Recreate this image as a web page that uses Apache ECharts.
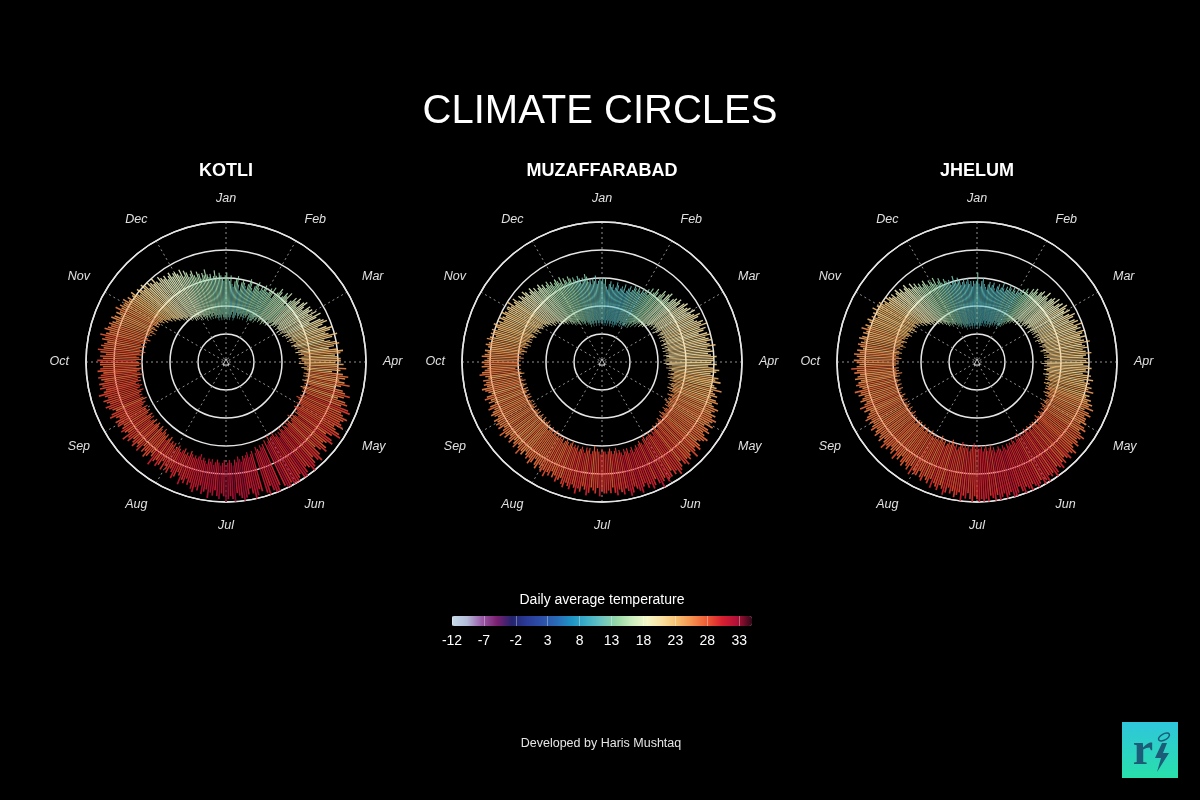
<!DOCTYPE html>
<html>
<head>
<meta charset="utf-8">
<title>Climate Circles</title>
<script src="https://cdn.jsdelivr.net/npm/echarts@6/dist/echarts.min.js"></script>
<style>
  html, body { margin: 0; padding: 0; background: #000; }
  #chart { width: 1200px; height: 800px; }
</style>
</head>
<body>
<div id="chart"></div>
<script>
// daily max / min temperature (°C), one row per month
const months = ["Jan", "Feb", "Mar", "Apr", "May", "Jun", "Jul", "Aug", "Sep", "Oct", "Nov", "Dec"];
const cities = ["KOTLI", "MUZAFFARABAD", "JHELUM"];

const kotliMax = [
  22,20,19,21,18,17,19,20,21,18,16,19,20,19,18,17,19,21,20,18,17,19,20,21,19,18,20,19,21,20,19,
  19,21,20,22,18,20,21,23,22,20,21,23,22,24,21,19,22,24,23,25,24,22,25,26,24,23,26,25,
  26,24,27,25,28,26,23,27,28,29,27,25,28,30,29,27,28,31,29,26,28,30,31,29,27,30,32,31,29,30,31,
  31,29,32,30,33,31,28,32,34,33,31,33,35,32,30,33,34,36,34,32,35,36,34,37,38,35,36,38,37,36,
  37,38,35,36,38,39,36,34,37,38,36,35,37,38,36,34,37,39,38,36,38,39,40,38,37,39,41,40,38,39,40,
  40,41,39,40,42,39,null,38,40,41,39,37,40,39,null,38,37,39,40,38,36,38,39,41,39,38,37,40,39,38,
  39,40,38,37,39,38,36,38,37,39,36,37,38,35,37,36,38,37,35,36,34,36,35,37,34,33,35,36,34,33,35,
  34,33,35,32,34,35,33,34,36,33,32,34,35,33,34,32,35,34,33,35,34,33,35,34,36,33,34,35,34,33,35,
  34,35,33,34,36,35,33,34,35,36,34,35,36,34,35,37,35,34,36,35,36,34,35,36,35,34,36,35,34,35,
  35,36,34,35,33,35,36,34,35,34,33,35,34,36,34,33,35,34,33,34,33,32,34,33,31,33,32,34,32,33,32,
  32,33,31,32,30,31,32,30,29,31,30,29,31,30,28,30,29,28,30,28,27,29,28,27,28,26,27,28,26,27,
  27,26,25,27,24,26,25,23,24,25,23,22,24,23,21,23,22,24,22,21,22,20,21,23,21,20,22,21,20,19,21
];
const kotliMin = [
  6,5,7,6,5,6,7,8,6,5,6,7,8,7,6,7,8,6,7,8,7,6,8,7,8,9,7,6,8,7,8,
  7,8,9,7,8,10,9,8,9,10,9,8,10,9,11,10,9,10,11,12,10,11,12,11,13,12,11,12,
  12,11,13,12,11,13,14,12,13,14,13,15,14,13,15,14,16,15,14,15,16,15,17,16,15,17,16,18,17,16,17,
  17,18,16,18,19,17,18,19,20,18,19,18,20,19,18,20,19,21,19,18,19,20,19,21,20,19,20,18,19,20,
  20,19,21,20,19,20,21,20,22,21,20,21,19,21,22,20,21,20,22,21,20,22,21,20,22,21,23,21,22,20,21,
  21,22,20,22,23,21,null,22,23,22,24,23,22,24,null,23,24,25,23,24,25,24,26,25,24,26,25,27,26,25,
  26,27,25,26,27,26,25,26,27,25,26,25,27,26,25,26,24,25,26,25,26,25,24,26,25,26,24,25,26,25,24,
  25,26,24,25,24,25,23,24,25,23,24,23,22,24,23,22,24,23,22,23,24,22,23,24,22,23,22,24,23,22,23,
  23,22,24,23,22,23,21,22,23,22,23,22,21,23,22,21,22,23,21,22,21,22,20,21,22,21,20,22,21,20,
  21,22,20,21,22,20,21,19,20,21,20,19,21,20,19,20,18,19,20,19,18,19,17,18,19,17,18,19,17,18,17,
  18,17,16,17,15,16,15,14,15,13,14,13,12,13,12,11,12,10,11,10,11,9,10,9,10,8,9,8,9,8,
  9,8,7,9,8,7,8,6,7,8,7,6,8,7,6,7,8,6,7,6,7,5,6,7,6,5,7,6,5,6,6
];

const muzaMax = [
  20,18,20,17,16,18,19,17,18,16,17,19,18,16,17,18,17,19,16,17,18,19,17,18,20,19,18,20,19,18,20,
  19,20,21,19,22,20,21,23,22,20,22,24,23,21,24,25,23,22,24,25,24,26,25,23,26,27,25,26,
  27,25,28,26,27,29,28,26,27,29,28,30,27,29,28,26,29,30,28,29,30,28,29,31,28,29,30,28,29,31,30,
  30,29,31,28,30,32,31,29,30,32,31,33,30,31,32,34,31,32,33,31,33,34,32,33,35,34,33,35,34,36,
  35,34,36,33,35,36,34,35,37,36,35,34,36,37,35,36,38,35,36,37,36,38,37,35,37,38,39,37,38,36,38,
  38,39,37,38,40,38,36,38,39,37,38,36,37,39,38,37,36,38,39,37,36,38,37,36,38,37,35,37,36,37,
  37,36,38,35,37,36,35,37,38,36,35,37,36,38,36,35,37,36,35,37,36,34,35,36,34,35,33,35,34,36,34,
  35,34,33,35,34,32,34,35,33,34,33,32,34,33,35,33,32,34,33,32,34,33,32,34,33,35,33,32,34,33,34,
  33,34,32,33,34,33,32,34,33,31,33,32,34,33,31,32,33,34,32,33,32,33,31,32,34,33,32,31,33,32,
  33,32,31,33,32,31,32,30,31,32,31,30,32,31,29,31,30,31,29,30,31,29,30,28,30,29,28,30,29,28,29,
  29,28,30,27,28,29,27,26,28,27,26,28,27,25,26,27,25,26,24,25,26,24,25,23,24,25,23,24,22,23,
  24,23,22,24,21,23,22,21,23,22,20,22,21,20,22,21,19,21,20,22,21,19,20,18,20,19,21,18,19,20,19
];
const muzaMin = [
  4,3,5,4,3,4,5,3,4,5,4,3,4,5,4,3,5,4,3,4,5,4,5,6,4,5,4,6,5,4,5,
  5,6,5,7,6,5,7,8,6,7,8,9,7,9,10,8,9,10,9,11,10,11,12,11,13,12,11,13,
  12,13,11,12,14,13,12,13,14,12,13,14,12,13,14,13,12,14,13,12,14,13,12,14,13,14,12,13,14,13,12,
  13,14,12,13,15,14,13,15,14,16,15,14,16,15,14,16,15,17,16,15,16,17,15,17,16,18,17,16,18,17,
  17,18,16,17,18,17,19,18,17,18,19,18,17,19,18,20,19,18,19,20,19,20,21,19,20,21,20,22,21,20,21,
  21,22,20,21,23,22,21,22,23,22,23,24,22,23,24,22,23,22,24,23,22,23,21,22,23,22,21,22,23,22,
  22,21,23,22,21,22,20,22,23,21,22,21,23,22,21,22,23,21,22,21,22,20,21,22,21,20,21,22,20,21,20,
  21,20,21,19,20,21,20,19,20,21,19,20,18,19,20,19,18,20,19,18,19,20,18,19,18,19,20,18,19,18,19,
  19,18,19,20,18,19,18,20,19,18,19,18,20,19,18,19,20,18,19,20,19,20,18,19,20,19,21,20,19,20,
  20,19,20,18,19,20,18,19,17,18,19,17,18,16,17,18,16,17,16,17,16,15,16,17,15,16,14,15,16,15,14,
  15,14,15,13,14,13,12,13,11,12,11,12,10,11,10,9,10,9,8,9,8,9,7,8,7,6,7,6,7,6,
  6,5,7,6,5,6,5,4,5,6,5,4,5,4,3,4,5,4,3,4,5,4,3,4,5,4,3,4,5,4,4
];

const jhelumMax = [
  22,18,17,19,20,18,17,16,18,19,17,18,19,17,16,18,19,17,18,20,18,17,19,18,20,19,18,20,19,18,20,
  19,20,21,19,22,21,20,23,22,24,23,22,24,25,23,24,26,24,23,25,26,25,27,24,26,27,25,28,
  27,26,28,25,27,29,28,26,28,29,27,30,28,29,27,30,29,28,30,28,29,31,28,29,30,28,29,31,29,28,30,
  29,30,28,30,31,29,30,28,31,30,32,29,31,30,32,31,33,30,32,31,33,32,34,33,35,32,34,35,33,34,
  34,35,33,35,36,34,35,37,36,35,36,37,35,36,38,37,36,38,37,36,38,37,39,38,37,39,40,38,39,38,40,
  39,40,38,39,41,39,38,40,39,38,40,39,37,39,41,40,38,39,40,38,39,41,38,40,39,38,40,39,41,39,
  40,39,38,40,39,37,39,38,40,37,38,39,37,38,36,38,39,37,36,38,37,36,38,35,37,36,35,37,36,34,36,
  36,35,37,34,36,35,34,36,35,33,35,34,36,33,35,34,33,35,34,36,34,33,35,34,33,35,34,33,35,34,33,
  34,33,35,34,33,32,34,33,35,33,32,34,33,32,34,33,35,32,33,34,33,32,34,33,32,34,33,35,33,32,
  33,34,32,33,34,32,33,31,32,33,32,31,33,32,30,32,31,33,31,32,30,31,32,30,31,29,31,30,32,30,31,
  30,31,29,30,28,30,29,28,29,27,28,29,27,28,26,27,28,26,25,27,25,26,24,25,23,24,25,23,22,24,
  23,22,24,21,22,23,21,20,22,21,20,21,19,20,22,20,19,21,20,18,19,20,18,19,20,18,19,17,19,18,19
];
const jhelumMin = [
  3,2,4,3,2,3,4,3,4,5,3,4,3,5,4,3,4,5,4,3,4,5,4,6,5,4,5,6,5,4,5,
  5,6,5,7,6,8,7,8,9,8,9,10,9,11,10,9,11,10,12,11,10,12,11,13,12,11,12,13,
  12,11,13,12,13,12,14,13,12,14,13,14,12,13,14,13,15,14,13,14,15,14,13,15,14,16,14,15,14,16,15,
  14,15,13,15,14,16,15,14,15,16,15,14,16,15,16,15,17,16,15,17,16,17,16,18,17,16,18,17,19,18,
  18,17,18,19,17,18,19,18,20,19,18,19,20,19,18,20,19,21,20,19,20,19,21,20,19,21,20,19,21,20,21,
  20,21,19,21,20,22,21,20,22,21,22,21,23,22,21,23,22,21,22,23,21,22,20,21,22,20,21,22,20,21,
  21,20,21,19,20,21,22,20,21,20,21,19,20,21,22,20,21,20,19,21,20,21,22,20,21,20,19,21,20,21,20,
  21,20,21,19,20,21,20,19,21,20,19,20,21,19,20,19,21,20,19,20,19,20,18,19,20,19,18,20,19,18,19,
  19,20,18,19,20,19,18,20,19,20,19,18,20,19,18,20,19,18,19,20,18,19,17,19,18,19,18,20,19,18,
  19,18,19,17,18,19,18,17,18,19,17,18,16,17,18,17,16,18,17,16,17,16,15,16,17,15,16,14,15,16,15,
  15,16,14,15,13,14,12,13,12,11,12,10,11,10,11,9,10,9,8,9,8,7,8,6,7,6,7,5,6,6,
  6,5,6,4,5,4,5,3,4,5,4,3,4,3,2,4,3,4,3,2,3,4,3,2,3,4,3,2,3,4,3
];

const highs = [kotliMax, muzaMax, jhelumMax];
const lows = [kotliMin, muzaMin, jhelumMin];

// colour ramp of the "Daily average temperature" bar, -12 .. 35 evenly spaced
const tempColors = [
  "#c6dbeb", "#b4bcd8", "#9a5aa8", "#7a2070", "#24246e", "#2a3c98", "#2d50a8",
  "#2a6cb8", "#1f94c4", "#3fb0c8", "#6cc4c0", "#98d8a8", "#cceec0", "#f4f8c8",
  "#fae0a0", "#f8c070", "#f49050", "#ee5a34", "#d82030", "#b01038", "#300818"
];
const legendMin = -12;
const legendMax = 35;
const legendStep = 5;

(function () {
  const el = document.getElementById("chart");
  const chart = echarts.init(el, null, { renderer: "canvas" });

  const centers = [[226, 362], [602, 362], [977, 362]];
  const R = 140;
  const font = "Liberation Sans, Arial, sans-serif";
  const dayNames = kotliMax.map((_, i) => String(i + 1));

  const polar = [];
  const angleAxis = [];
  const radiusAxis = [];
  const series = [];
  const barSeriesIdx = [];
  const hidden = { show: false };

  cities.forEach((name, c) => {
    const hi = highs[c];
    const lo = lows[c];

    // polar 2c = bars, polar 2c+1 = rings / month spokes
    polar.push({ center: centers[c], radius: [0, R] });
    polar.push({ center: centers[c], radius: [0, R] });

    angleAxis.push({
      polarIndex: 2 * c, type: "category", data: dayNames, startAngle: 90,
      axisLine: hidden, axisTick: hidden, axisLabel: hidden, splitLine: hidden
    });
    radiusAxis.push({
      polarIndex: 2 * c, type: "value", min: -10, max: 40,
      axisLine: hidden, axisTick: hidden, axisLabel: hidden, splitLine: hidden
    });

    angleAxis.push({
      polarIndex: 2 * c + 1, type: "value", min: 0, max: 12, interval: 1, startAngle: 90,
      axisLine: { lineStyle: { color: "#e6e6e6", width: 1.5 } },
      axisTick: hidden,
      axisLabel: {
        formatter: (v) => months[v] || "",
        color: "#e0e0e0", fontSize: 12.5, fontStyle: "italic", fontFamily: font, margin: 17
      },
      splitLine: { lineStyle: { type: [2, 3], color: "#909090", width: 1 } }
    });
    radiusAxis.push({
      polarIndex: 2 * c + 1, type: "value", min: -10, max: 40, interval: 10,
      axisLine: hidden, axisTick: hidden, axisLabel: hidden,
      splitLine: { lineStyle: { color: "#e6e6e6", width: 1.5 } }
    });

    // transparent base up to the daily min, then the min->max bar on top
    series.push({
      type: "bar", coordinateSystem: "polar", polarIndex: 2 * c, stack: "t" + c,
      barCategoryGap: "25%", silent: true,
      itemStyle: { color: "rgba(0,0,0,0)" },
      data: lo.map((v, i) => [v, i])
    });
    barSeriesIdx.push(series.length);
    series.push({
      type: "bar", coordinateSystem: "polar", polarIndex: 2 * c, stack: "t" + c,
      barCategoryGap: "25%",
      itemStyle: { opacity: 0.88 },
      data: hi.map((v, i) => (v == null ? [null, i, null] : [v - lo[i], i, (v + lo[i]) / 2]))
    });
    series.push({
      type: "scatter", coordinateSystem: "polar", polarIndex: 2 * c,
      symbol: "triangle", symbolSize: 6, silent: true,
      itemStyle: { color: "rgba(0,0,0,0)", borderColor: "#ffffff", borderWidth: 1 },
      data: [[-10, 0]]
    });
  });

  const texts = [
    { x: 600, y: 112, text: "CLIMATE CIRCLES", size: 40, weight: "normal", color: "#ffffff" },
    { x: 602, y: 600, text: "Daily average temperature", size: 14, weight: "normal", color: "#ffffff" },
    { x: 601, y: 744, text: "Developed by Haris Mushtaq", size: 12.5, weight: "normal", color: "#e6e6e6" }
  ];
  cities.forEach((name, c) => {
    texts.push({ x: centers[c][0], y: 171, text: name, size: 18, weight: "bold", color: "#ffffff" });
  });

  const graphic = texts.map((t) => ({
    type: "text", x: t.x, y: t.y, silent: true,
    style: {
      text: t.text, fill: t.color, fontSize: t.size, fontWeight: t.weight,
      fontFamily: font, align: "center", verticalAlign: "middle"
    }
  }));

  // logo, bottom right
  graphic.push({
    type: "group", x: 1122, y: 722, silent: true,
    children: [
      {
        type: "rect", shape: { x: 0, y: 0, width: 56, height: 56 },
        style: {
          fill: new echarts.graphic.LinearGradient(0, 0, 0, 1, [
            { offset: 0, color: "#2fc6dc" },
            { offset: 1, color: "#28e0aa" }
          ])
        }
      },
      {
        type: "text", x: 21, y: 30,
        style: {
          text: "r", fill: "#1c5c78", fontSize: 46, fontWeight: "bold",
          fontFamily: "Liberation Serif, serif", align: "center", verticalAlign: "middle"
        }
      },
      {
        type: "polygon",
        shape: { points: [[40, 21], [33, 36], [39, 36], [35, 50], [47, 31], [41, 31], [45, 21]] },
        style: { fill: "#1c5c78" }
      },
      {
        type: "ellipse", x: 42, y: 15, rotation: 0.5,
        shape: { cx: 0, cy: 0, rx: 6, ry: 3 },
        style: { fill: "none", stroke: "#1c5c78", lineWidth: 1.5 }
      }
    ]
  });

  const option = {
    backgroundColor: "#000000",
    animation: false,
    polar,
    angleAxis,
    radiusAxis,
    grid: [{ left: 452, top: 616, width: 300, height: 10, show: false }],
    xAxis: [{
      type: "value", gridIndex: 0, min: legendMin, max: legendMax, interval: legendStep,
      position: "bottom", z: 10,
      axisLine: hidden, splitLine: hidden,
      axisTick: { inside: true, length: 10, lineStyle: { color: "rgba(255,255,255,0.35)" } },
      axisLabel: { color: "#ffffff", fontSize: 14, fontFamily: font, margin: 8, showMaxLabel: false }
    }],
    yAxis: [{ type: "value", gridIndex: 0, show: false }],
    visualMap: {
      type: "continuous", min: legendMin, max: legendMax, dimension: 2,
      seriesIndex: barSeriesIdx, orient: "horizontal",
      left: 452, top: 616, itemWidth: 10, itemHeight: 300, padding: 0,
      calculable: false, hoverLink: false,
      inRange: { color: tempColors }
    },
    graphic,
    series
  };

  chart.setOption(option);
  window.addEventListener("resize", () => chart.resize());
})();
</script>
</body>
</html>
